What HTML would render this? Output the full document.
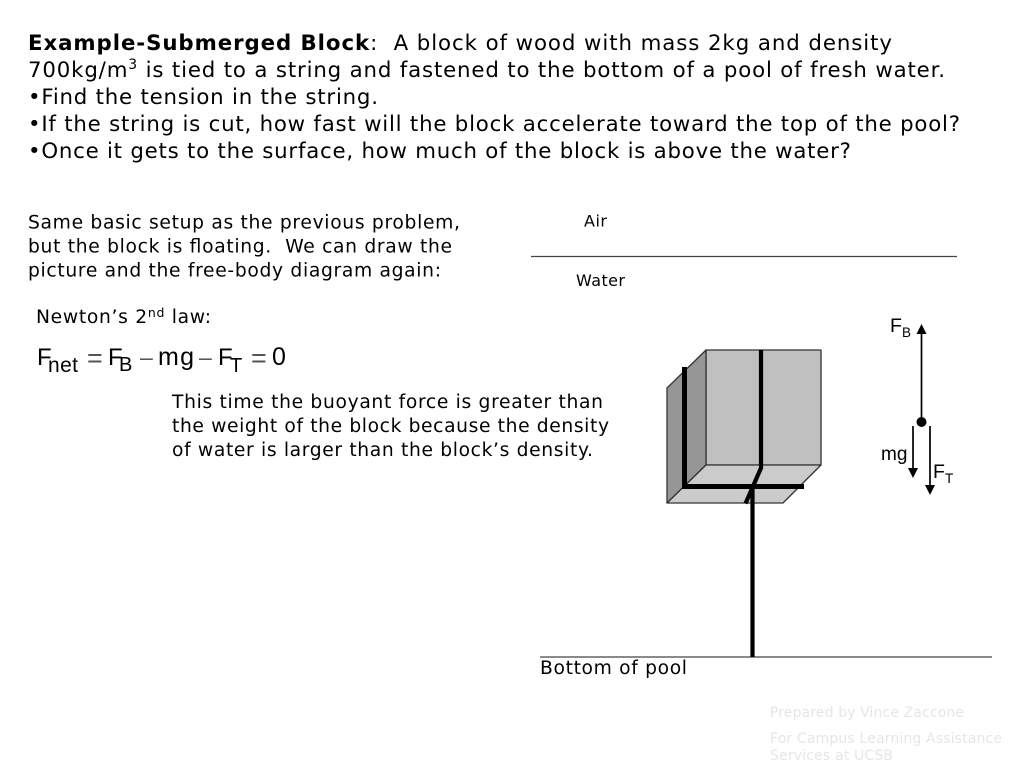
<!DOCTYPE html>
<html>
<head>
<meta charset="utf-8">
<style>
html,body{margin:0;padding:0;background:#fff}
svg{display:block}
text{font-family:"DejaVu Sans",sans-serif;fill:#000;white-space:pre}
.a{font-family:"Liberation Sans",sans-serif}
</style>
</head>
<body>
<svg width="1024" height="768" viewBox="0 0 1024 768" xmlns="http://www.w3.org/2000/svg">
<g font-size="21.3">
<text x="28" y="50" textLength="864"><tspan font-weight="bold">Example-Submerged Block</tspan>:  A block of wood with mass 2kg and density</text>
<text x="28" y="77" textLength="917">700kg/m<tspan font-size="14" dy="-8">3</tspan><tspan dy="8"> is tied to a string and fastened to the bottom of a pool of fresh water.</tspan></text>
<text x="28" y="104" textLength="350">•Find the tension in the string.</text>
<text x="28" y="131" textLength="932">•If the string is cut, how fast will the block accelerate toward the top of the pool?</text>
<text x="28" y="158" textLength="823">•Once it gets to the surface, how much of the block is above the water?</text>
</g>
<g font-size="18.7">
<text x="28" y="228.5" textLength="432">Same basic setup as the previous problem,</text>
<text x="28" y="252.5" textLength="424">but the block is floating.  We can draw the</text>
<text x="28" y="276.5" textLength="413">picture and the free-body diagram again:</text>
<text x="36" y="323" textLength="175">Newton’s 2<tspan font-size="12.5" dy="-6">nd</tspan><tspan dy="6"> law:</tspan></text>
<text x="172" y="408" textLength="431">This time the buoyant force is greater than</text>
<text x="172" y="432" textLength="437">the weight of the block because the density</text>
<text x="172" y="456" textLength="421">of water is larger than the block’s density.</text>
<text x="540" y="674" textLength="147">Bottom of pool</text>
</g>
<text x="584" y="226.5" font-size="16" textLength="23">Air</text>
<text x="576" y="286" font-size="16" textLength="49">Water</text>
<text class="a" x="37" y="365" font-size="24">F</text>
<text class="a" x="48" y="372" font-size="21" textLength="30">net</text>
<text class="a" x="87" y="367" font-size="27" style="fill:#555">=</text>
<text class="a" x="108" y="365" font-size="24">F</text>
<text class="a" x="119" y="371" font-size="20">B</text>
<text class="a" x="140" y="365" font-size="23" style="fill:#555">–</text>
<text class="a" x="158" y="365" font-size="25" textLength="36">mg</text>
<text class="a" x="199" y="365" font-size="23" style="fill:#555">–</text>
<text class="a" x="218" y="365" font-size="24">F</text>
<text class="a" x="230" y="372" font-size="20">T</text>
<text class="a" x="251" y="367" font-size="27" style="fill:#555">=</text>
<text class="a" x="272" y="365" font-size="25">0</text>
<line x1="531" y1="256.5" x2="957" y2="256.5" stroke="#444" stroke-width="1.2"/>
<line x1="540" y1="657" x2="992" y2="657" stroke="#444" stroke-width="1.2"/>
<g stroke="#333" stroke-width="1.3" stroke-linejoin="round">
<rect x="706" y="350" width="115" height="115" fill="#c0c0c0"/>
<polygon points="667,388 706,350 706,465 667,503" fill="#969696"/>
<polygon points="706,465 821,465 783,503 667,503" fill="#cbcbcb"/>
</g>
<g stroke="#000" fill="none">
<path d="M684.5 367V486.5H804" stroke-width="5"/>
<path d="M761 350V468L745.5 503.5" stroke-width="4.2"/>
<line x1="752.5" y1="485" x2="752.5" y2="657" stroke-width="4.2"/>
</g>
<g stroke="#000" stroke-width="1.7">
<line x1="921.5" y1="422" x2="921.5" y2="332"/>
<line x1="913" y1="426" x2="913" y2="470"/>
<line x1="930" y1="426" x2="930" y2="487"/>
</g>
<circle cx="921.5" cy="422" r="5" fill="#000"/>
<polygon points="921.5,324 916.5,334 926.5,334" fill="#000"/>
<polygon points="913,478 908,468 918,468" fill="#000"/>
<polygon points="930,495 925,485 935,485" fill="#000"/>
<text class="a" x="890" y="332" font-size="19.5">F</text>
<text class="a" x="902" y="337" font-size="13.5">B</text>
<text class="a" x="881" y="460" font-size="19">mg</text>
<text class="a" x="933" y="478" font-size="19.5">F</text>
<text class="a" x="945" y="483" font-size="13.5">T</text>
<g font-size="14">
<text style="fill:#e6e6e6" x="770" y="717" textLength="194">Prepared by Vince Zaccone</text>
<text style="fill:#e6e6e6" x="770" y="743" textLength="232">For Campus Learning Assistance</text>
<text style="fill:#e6e6e6" x="770" y="760" textLength="123">Services at UCSB</text>
</g>
</svg>
</body>
</html>
